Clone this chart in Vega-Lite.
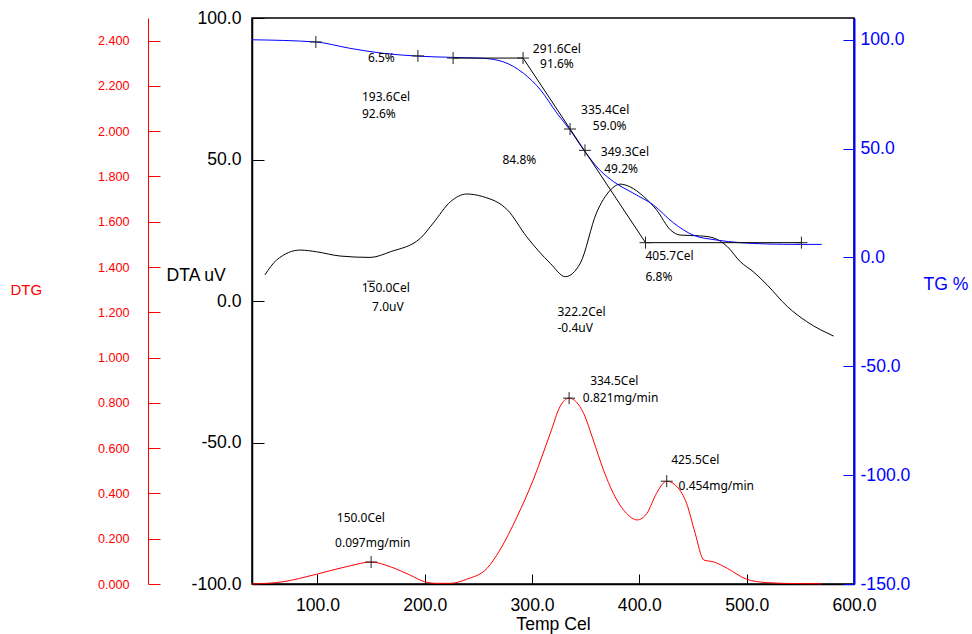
{
  "$schema": "https://vega.github.io/schema/vega-lite/v6.json",
  "width": 602,
  "height": 566,
  "autosize": {"type": "none"},
  "padding": {"left": 252, "top": 18, "right": 118, "bottom": 50},
  "background": "white",
  "config": {
    "view": {"stroke": "black", "strokeWidth": 1.5},
    "axis": {
      "grid": false,
      "labelFont": "Liberation Sans",
      "titleFont": "Liberation Sans",
      "titleFontWeight": "normal",
      "labelFlush": false,
      "labelOverlap": false,
      "domainWidth": 1.5,
      "tickWidth": 1
    }
  },
  "datasets": {
    "dta": [
      {"t": 51, "v": 9.2}, {"t": 62, "v": 14.5}, {"t": 84, "v": 18.0}, {"t": 99, "v": 17.4},
      {"t": 121, "v": 15.9}, {"t": 149, "v": 15.4}, {"t": 168, "v": 17.4}, {"t": 196, "v": 22.2},
      {"t": 208, "v": 27.6}, {"t": 224, "v": 35.1}, {"t": 239, "v": 37.8}, {"t": 254, "v": 36.9},
      {"t": 277, "v": 32.2}, {"t": 295, "v": 22.7}, {"t": 317, "v": 13.3}, {"t": 331, "v": 8.6},
      {"t": 345, "v": 13.4}, {"t": 360, "v": 31.1}, {"t": 373, "v": 39.2}, {"t": 382, "v": 41.3},
      {"t": 391, "v": 40.4}, {"t": 404, "v": 36.9}, {"t": 416, "v": 32.2}, {"t": 429, "v": 25.1},
      {"t": 438, "v": 23.3}, {"t": 457, "v": 23.0}, {"t": 469, "v": 22.3}, {"t": 482, "v": 19.2},
      {"t": 494, "v": 13.9}, {"t": 506, "v": 10.4}, {"t": 519, "v": 5.7}, {"t": 538, "v": -2.0},
      {"t": 556, "v": -7.3}, {"t": 581, "v": -12.4}
    ],
    "tg": [
      {"t": 39, "v": 100.0}, {"t": 98, "v": 99.0}, {"t": 130, "v": 96.1}, {"t": 161, "v": 93.8},
      {"t": 193, "v": 92.5}, {"t": 226, "v": 91.9}, {"t": 254, "v": 91.5}, {"t": 273, "v": 89.9},
      {"t": 292, "v": 84.6}, {"t": 308, "v": 76.9}, {"t": 323, "v": 66.4}, {"t": 335, "v": 58.8},
      {"t": 349, "v": 48.8}, {"t": 363, "v": 40.2}, {"t": 376, "v": 34.8}, {"t": 394, "v": 29.6},
      {"t": 413, "v": 24.1}, {"t": 432, "v": 15.8}, {"t": 450, "v": 10.3}, {"t": 472, "v": 8.0},
      {"t": 494, "v": 6.8}, {"t": 519, "v": 6.2}, {"t": 550, "v": 6.0}, {"t": 570, "v": 6.0}
    ],
    "dtg": [
      {"t": 39, "v": 0.0}, {"t": 68, "v": 0.010}, {"t": 99, "v": 0.043}, {"t": 130, "v": 0.080},
      {"t": 150, "v": 0.097}, {"t": 168, "v": 0.076}, {"t": 186, "v": 0.040}, {"t": 200, "v": 0.010},
      {"t": 211, "v": 0.003}, {"t": 224, "v": 0.003}, {"t": 239, "v": 0.021}, {"t": 258, "v": 0.069},
      {"t": 270, "v": 0.150}, {"t": 286, "v": 0.297}, {"t": 301, "v": 0.459}, {"t": 317, "v": 0.666},
      {"t": 326, "v": 0.783}, {"t": 334.5, "v": 0.821}, {"t": 348, "v": 0.754}, {"t": 357, "v": 0.636},
      {"t": 366.5, "v": 0.504}, {"t": 379, "v": 0.371}, {"t": 388, "v": 0.312}, {"t": 398, "v": 0.283},
      {"t": 407, "v": 0.312}, {"t": 416, "v": 0.401}, {"t": 425.5, "v": 0.454}, {"t": 435, "v": 0.430},
      {"t": 444, "v": 0.356}, {"t": 452, "v": 0.224}, {"t": 460, "v": 0.106}, {"t": 469, "v": 0.098},
      {"t": 482, "v": 0.069}, {"t": 500, "v": 0.021}, {"t": 519, "v": 0.006}, {"t": 544, "v": 0.002},
      {"t": 570, "v": 0.001}
    ],
    "tangent": [
      {"t": 226.4, "v": 91.6}, {"t": 291.6, "v": 91.6}, {"t": 405.7, "v": 6.8}, {"t": 551, "v": 6.8}
    ],
    "tgPoints": [
      {"t": 98.5, "v": 99.0}, {"t": 193.6, "v": 92.6}, {"t": 226.4, "v": 91.6}, {"t": 291.6, "v": 91.6},
      {"t": 335.4, "v": 59.0}, {"t": 349.3, "v": 49.2}, {"t": 405.7, "v": 6.8}, {"t": 551, "v": 6.8}
    ],
    "dtgPoints": [
      {"t": 150.0, "v": 0.097}, {"t": 334.5, "v": 0.821}, {"t": 425.5, "v": 0.454}
    ],
    "dtaPoints": [
      {"t": 150.0, "v": 7.0}
    ],
    "tgLabels": [
      {"t": 147, "v": 91.6, "label": "6.5%"},
      {"t": 141.5, "v": 73.6, "label": "193.6Cel"},
      {"t": 141.5, "v": 66.1, "label": "92.6%"},
      {"t": 300.7, "v": 95.9, "label": "291.6Cel"},
      {"t": 307.4, "v": 88.7, "label": "91.6%"},
      {"t": 345.7, "v": 67.6, "label": "335.4Cel"},
      {"t": 356.6, "v": 60.6, "label": "59.0%"},
      {"t": 364.1, "v": 48.3, "label": "349.3Cel"},
      {"t": 367.2, "v": 40.8, "label": "49.2%"},
      {"t": 272.4, "v": 44.8, "label": "84.8%"},
      {"t": 405.7, "v": 0.7, "label": "405.7Cel"},
      {"t": 405.7, "v": -9.0, "label": "6.8%"}
    ],
    "dtaLabels": [
      {"t": 141.2, "v": 4.6, "label": "150.0Cel"},
      {"t": 150.9, "v": -2.1, "label": "7.0uV"},
      {"t": 323.7, "v": -3.9, "label": "322.2Cel"},
      {"t": 323.7, "v": -9.5, "label": "-0.4uV"}
    ],
    "dtgLabels": [
      {"t": 118.0, "v": 0.2915, "label": "150.0Cel"},
      {"t": 116.4, "v": 0.181, "label": "0.097mg/min"},
      {"t": 354.1, "v": 0.897, "label": "334.5Cel"},
      {"t": 347.3, "v": 0.822, "label": "0.821mg/min"},
      {"t": 429.6, "v": 0.548, "label": "425.5Cel"},
      {"t": 436.5, "v": 0.433, "label": "0.454mg/min"}
    ]
  },
  "encoding": {
    "x": {
      "field": "t",
      "type": "quantitative",
      "scale": {"domain": [39, 600], "nice": false, "zero": false},
      "axis": {
        "title": "Temp Cel",
        "values": [100, 200, 300, 400, 500, 600],
        "format": ".1f",
        "labelFontSize": 17.6,
        "labelColor": "black",
        "tickColor": "black",
        "domainColor": "black",
        "tickSize": -10,
        "labelPadding": 22,
        "titleFontSize": 17.6,
        "titleColor": "black",
        "titlePadding": 2
      }
    }
  },
  "layer": [
    {
      "encoding": {
        "y": {
          "field": "v",
          "type": "quantitative",
          "scale": {"domain": [0, 2.5], "nice": false, "zero": false},
          "axis": {
            "orient": "left",
            "offset": 104,
            "title": "DTG",
            "values": [0, 0.2, 0.4, 0.6, 0.8, 1.0, 1.2, 1.4, 1.6, 1.8, 2.0, 2.2, 2.4],
            "format": ".3f",
            "labelFontSize": 12.6,
            "labelColor": "#ff0000",
            "tickColor": "#ff0000",
            "domainColor": "#ff0000",
            "domainWidth": 1,
            "tickSize": -12,
            "labelPadding": 31,
            "titleColor": "#ff0000",
            "titleFontSize": 15,
            "titleAngle": 0,
            "titleAlign": "left",
            "titleBaseline": "middle",
            "titleX": -138,
            "titleY": 271
          }
        }
      },
      "layer": [
        {
          "data": {"name": "dtg"},
          "mark": {"type": "line", "color": "#ff0000", "strokeWidth": 1, "interpolate": "monotone"}
        },
        {
          "data": {"name": "dtgPoints"},
          "mark": {"type": "point", "shape": "M-1,0H1M0,-1V1", "filled": false, "stroke": "#222222", "strokeWidth": 1, "size": 144, "opacity": 1}
        },
        {
          "data": {"name": "dtgLabels"},
          "mark": {"type": "text", "align": "left", "baseline": "middle", "font": "Noto Sans", "fontSize": 12, "color": "black"},
          "encoding": {"text": {"field": "label"}}
        }
      ]
    },
    {
      "encoding": {
        "y": {
          "field": "v",
          "type": "quantitative",
          "scale": {"domain": [-100, 100], "nice": false, "zero": false},
          "axis": {
            "orient": "left",
            "title": "DTA uV",
            "values": [-100, -50, 0, 50, 100],
            "labelExpr": "replace(format(datum.value, '.1f'), '\u2212', '-')",
            "labelFontSize": 17.6,
            "labelColor": "black",
            "tickColor": "black",
            "domainColor": "black",
            "tickSize": -12,
            "labelPadding": 23,
            "titleColor": "black",
            "titleFontSize": 17.6,
            "titleAngle": 0,
            "titleAlign": "left",
            "titleBaseline": "middle",
            "titleX": -86,
            "titleY": 257
          }
        }
      },
      "layer": [
        {
          "data": {"name": "dta"},
          "mark": {"type": "line", "color": "black", "strokeWidth": 1, "interpolate": "monotone"}
        },
        {
          "data": {"name": "dtaPoints"},
          "mark": {"type": "point", "shape": "M-1,0H1", "filled": false, "stroke": "#222222", "strokeWidth": 1, "size": 64, "opacity": 1}
        },
        {
          "data": {"name": "dtaLabels"},
          "mark": {"type": "text", "align": "left", "baseline": "middle", "font": "Noto Sans", "fontSize": 12, "color": "black"},
          "encoding": {"text": {"field": "label"}}
        }
      ]
    },
    {
      "encoding": {
        "y": {
          "field": "v",
          "type": "quantitative",
          "scale": {"domain": [-150, 110], "nice": false, "zero": false},
          "axis": {
            "orient": "right",
            "title": "TG %",
            "values": [-150, -100, -50, 0, 50, 100],
            "labelExpr": "replace(format(datum.value, '.1f'), '\u2212', '-')",
            "labelFontSize": 17.6,
            "labelColor": "#0000ff",
            "tickColor": "#0000ff",
            "domainColor": "#0000ff",
            "domainWidth": 2,
            "tickSize": -11,
            "labelPadding": 17,
            "titleColor": "#0000ff",
            "titleFontSize": 17.6,
            "titleAngle": 0,
            "titleAlign": "left",
            "titleBaseline": "middle",
            "titleX": 69,
            "titleY": 266
          }
        }
      },
      "layer": [
        {
          "data": {"name": "tg"},
          "mark": {"type": "line", "color": "#0000ff", "strokeWidth": 1, "interpolate": "monotone"}
        },
        {
          "data": {"name": "tangent"},
          "mark": {"type": "line", "color": "black", "strokeWidth": 1}
        },
        {
          "data": {"name": "tgPoints"},
          "mark": {"type": "point", "shape": "M-1,0H1M0,-1V1", "filled": false, "stroke": "#222222", "strokeWidth": 1, "size": 144, "opacity": 1}
        },
        {
          "data": {"name": "tgLabels"},
          "mark": {"type": "text", "align": "left", "baseline": "middle", "font": "Noto Sans", "fontSize": 12, "color": "black"},
          "encoding": {"text": {"field": "label"}}
        }
      ]
    }
  ],
  "resolve": {"scale": {"y": "independent"}, "axis": {"y": "independent"}}
}
